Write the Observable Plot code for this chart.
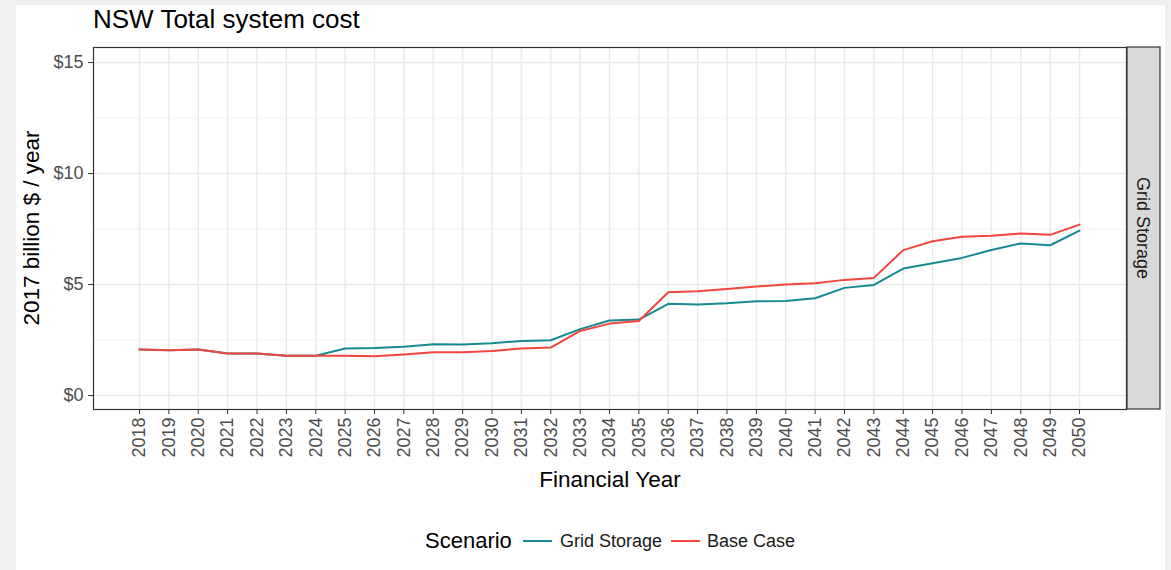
<!DOCTYPE html>
<html><head><meta charset="utf-8">
<script src="https://cdn.jsdelivr.net/npm/d3@7"></script>
<script src="https://cdn.jsdelivr.net/npm/@observablehq/plot@0.6"></script>
<style>
html,body{margin:0;padding:0;background:#f0f0f0;}
#wrap{position:relative;width:1171px;height:570px;overflow:hidden;font-family:"Liberation Sans",Arial,sans-serif;}
#card{position:absolute;left:16px;top:5px;width:1149px;height:565px;background:#fff;}
#chart{position:absolute;left:0;top:0;}
.t{position:absolute;white-space:nowrap;line-height:1;}
.key{position:absolute;height:2px;}
</style></head><body>
<div id="wrap">
  <div id="card"></div>
  <div id="chart"></div>
  <div class="t" style="left:93px;top:6px;font-size:26px;color:#000">NSW Total system cost</div>
  <div class="t" style="left:32px;top:228px;font-size:22.5px;color:#000;transform:translate(-50%,-50%) rotate(-90deg)">2017 billion $ / year</div>
  <div class="t" style="left:610px;top:480px;font-size:22.5px;color:#000;transform:translate(-50%,-50%)">Financial Year</div>
  <div id="legend"></div>
</div>
<script>
const years = [2018,2019,2020,2021,2022,2023,2024,2025,2026,2027,2028,2029,2030,2031,2032,2033,2034,2035,2036,2037,2038,2039,2040,2041,2042,2043,2044,2045,2046,2047,2048,2049,2050];
const scenarios = ["Grid Storage", "Base Case"];
const colors = ["#158a92", "#f2453d"];
const gridStorage = [2.07,2.04,2.07,1.89,1.89,1.79,1.79,2.12,2.14,2.20,2.31,2.30,2.36,2.46,2.49,2.99,3.38,3.42,4.13,4.10,4.16,4.25,4.26,4.38,4.85,4.98,5.72,5.96,6.20,6.56,6.85,6.77,7.43];
const baseCase = [2.07,2.04,2.07,1.89,1.89,1.79,1.79,1.79,1.77,1.85,1.95,1.95,2.01,2.12,2.16,2.91,3.24,3.36,4.65,4.70,4.80,4.91,5.00,5.06,5.21,5.30,6.55,6.95,7.15,7.20,7.30,7.24,7.70];
const yMajor = [0, 5, 10, 15];
const yMinor = [2.5, 7.5, 12.5];
const stripLabel = "Grid Storage";
const legendTitle = "Scenario";

const rows = [];
years.forEach((yr, i) => rows.push({year: yr, value: gridStorage[i], scenario: scenarios[0]}));
years.forEach((yr, i) => rows.push({year: yr, value: baseCase[i], scenario: scenarios[1]}));

const font = "Liberation Sans, Arial, sans-serif";
const plot = Plot.plot({
  width: 1171, height: 500,
  marginLeft: 93, marginRight: 45, marginTop: 47, marginBottom: 91,
  style: {fontFamily: font, background: "transparent", overflow: "visible"},
  x: {type: "linear", domain: [2016.434, 2051.6]},
  y: {domain: [-0.63, 15.68]},
  color: {domain: scenarios, range: colors},
  marks: [
    Plot.ruleY(yMinor, {stroke: "#f2f2f2", strokeWidth: 0.9}),
    Plot.ruleY(yMajor, {stroke: "#ebebeb", strokeWidth: 1.5}),
    Plot.ruleX(years, {stroke: "#ebebeb", strokeWidth: 1.5}),
    Plot.line(rows, {x: "year", y: "value", stroke: "scenario", z: "scenario", strokeWidth: 2}),
    Plot.frame({stroke: "#333", strokeWidth: 1.2}),
    Plot.axisY(yMajor, {tickFormat: d => "$" + d, tickSize: 5, tickPadding: 5, fontSize: 18, fill: "#4d4d4d", stroke: "#333", label: null}),
    Plot.axisX(years, {tickFormat: d => String(d), tickRotate: -90, tickSize: 5, tickPadding: 3, fontSize: 18, fill: "#4d4d4d", stroke: "#333", label: null})
  ]
});
document.getElementById("chart").appendChild(plot);

// facet strip on the right
const xs = plot.scale("x"), ys = plot.scale("y");
const sx = xs.range[1] + 1, sTop = ys.range[1], sBot = ys.range[0];
const svg = d3.select(plot);
const g = svg.append("g");
g.append("rect").attr("x", sx).attr("y", sTop).attr("width", 33).attr("height", sBot - sTop)
  .attr("fill", "#d9d9d9").attr("stroke", "#333").attr("stroke-width", 1.2);
g.append("text").attr("transform", `translate(${sx + 16.5},${(sTop + sBot) / 2}) rotate(90)`)
  .attr("text-anchor", "middle").attr("dy", "0.35em").attr("font-size", 18).attr("fill", "#1a1a1a")
  .attr("font-family", font).text(stripLabel);

// legend
const leg = document.getElementById("legend");
function add(html, style) { const d = document.createElement("div"); d.className = "t"; d.style.cssText = style; d.textContent = html; leg.appendChild(d); return d; }
add(legendTitle, "left:425px;top:541px;font-size:22px;color:#000;transform:translateY(-50%)");
const keyLefts = [523, 671], textLefts = [560, 707];
scenarios.forEach((s, i) => {
  const k = document.createElement("div"); k.className = "key";
  k.style.cssText = `left:${keyLefts[i]}px;top:540px;width:29px;background:${colors[i]}`;
  leg.appendChild(k);
  add(s, `left:${textLefts[i]}px;top:541px;font-size:18px;color:#1a1a1a;transform:translateY(-50%)`);
});
</script>
</body></html>
